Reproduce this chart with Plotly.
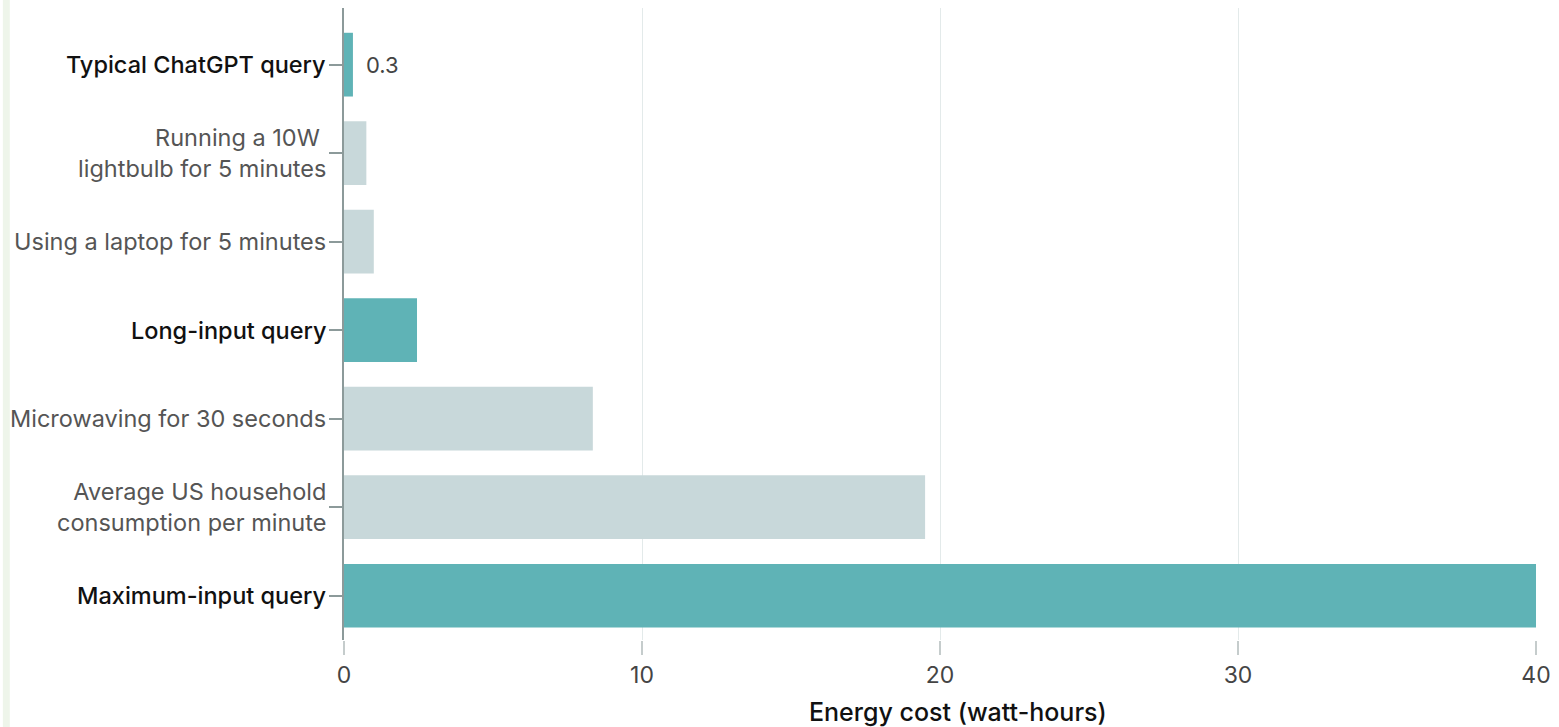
import plotly.graph_objects as go

categories = [
    "Typical ChatGPT query",
    "Running a 10W <br>lightbulb for 5 minutes",
    "Using a laptop for 5 minutes",
    "Long-input query",
    "Microwaving for 30 seconds",
    "Average US household<br>consumption per minute",
    "Maximum-input query",
]
values = [0.3, 0.75, 1.0, 2.45, 8.35, 19.5, 40.0]
is_query = [True, False, False, True, False, False, True]
value_labels = ["0.3", "", "", "", "", "", ""]
x_ticks = [0, 10, 20, 30, 40]

TEAL = "#5fb3b6"
GREY = "#c8d8da"
FONT = "Inter, 'Noto Sans', sans-serif"

W, H = 1559, 727
L, R, T, B = 344, 13, 8, 87
PW = W - L - R
PH = H - T - B

fig = go.Figure()
fig.add_trace(go.Bar(
    x=values,
    y=list(range(len(categories))),
    orientation="h",
    marker=dict(color=[TEAL if q else GREY for q in is_query], line=dict(width=0)),
    width=0.72,
    hoverinfo="skip",
))

for i, (v, lab) in enumerate(zip(values, value_labels)):
    if lab:
        fig.add_annotation(
            x=v, xref="x", y=i, yref="y", text=lab, showarrow=False,
            xanchor="left", yanchor="middle", xshift=11,
            font=dict(family=FONT, size=22, color="#444"),
        )

for i, (cat, q) in enumerate(zip(categories, is_query)):
    fig.add_annotation(
        x=0, xref="paper", y=i, yref="y",
        text=cat, showarrow=False, xanchor="right", yanchor="middle",
        xshift=-16, align="right",
        font=dict(family=FONT, size=23.5, color="#111" if q else "#555",
                  weight=500 if q else 400),
    )

fig.add_annotation(
    x=0.515, xref="paper", y=-72 / PH, yref="paper",
    text="Energy cost (watt-hours)", showarrow=False,
    xanchor="center", yanchor="middle",
    font=dict(family=FONT, size=25, color="#111", weight=500),
)

# faint green strip along the left edge
fig.add_shape(type="rect", xref="paper", yref="paper",
              x0=-L / PW, x1=-(L - 7) / PW, y0=-B / PH, y1=1 + T / PH,
              fillcolor="#eef5ea", line=dict(width=0), layer="below")

fig.update_layout(
    width=W, height=H, autosize=False,
    margin=dict(l=L, r=R, t=T, b=B),
    paper_bgcolor="white", plot_bgcolor="white",
    showlegend=False,
)
fig.update_xaxes(
    range=[0, 40], tickvals=x_ticks,
    showgrid=True, gridcolor="#e3eaea", gridwidth=1,
    zeroline=False, showline=False,
    ticks="outside", ticklen=14, tickcolor="#c5cccc", tickwidth=1.5,
    tickfont=dict(family=FONT, size=23, color="#444"),
    ticklabeloverflow="allow",
)
fig.update_yaxes(
    range=[6.5, -0.64],
    tickvals=list(range(len(categories))), ticktext=[""] * len(categories),
    showgrid=False, zeroline=False,
    showline=True, linecolor="#8c9a9a", linewidth=1.5,
    ticks="outside", ticklen=13, tickcolor="#8c9a9a", tickwidth=1.5,
)

fig.write_html(
    "out.html",
    config={"displayModeBar": False, "responsive": False},
    post_script="document.body.style.margin='0';document.body.style.overflow='hidden';",
)
